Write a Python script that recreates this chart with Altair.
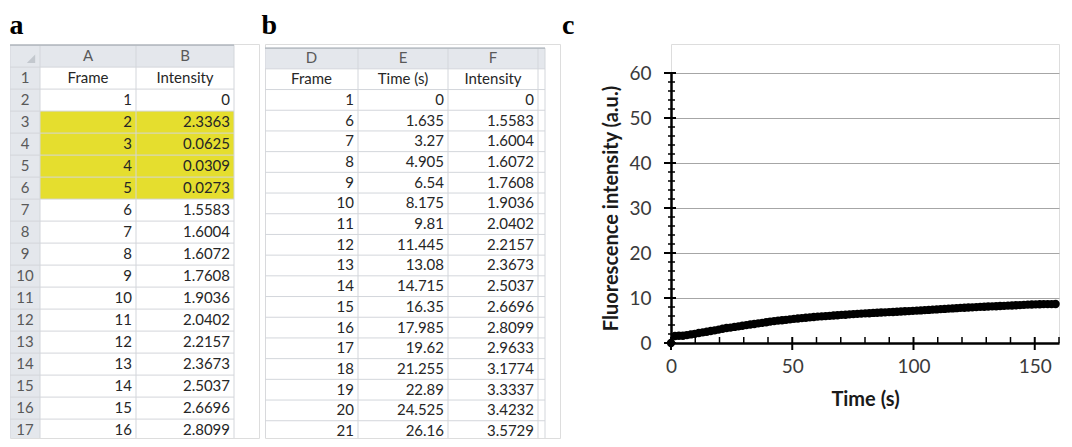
import altair as alt
import pandas as pd

# ---------------- data ----------------
a_col_letters = ["A", "B"]
a_headers = ["Frame", "Intensity"]
a_frame = [1, 2, 3, 4, 5, 6, 7, 8, 9, 10, 11, 12, 13, 14, 15, 16, 17]
a_intensity = [0, 2.3363, 0.0625, 0.0309, 0.0273, 1.5583, 1.6004, 1.6072,
               1.7608, 1.9036, 2.0402, 2.2157, 2.3673, 2.5037, 2.6696, 2.8099, 2.9633]
a_highlight = [2, 3, 4, 5]

b_col_letters = ["D", "E", "F"]
b_headers = ["Frame", "Time (s)", "Intensity"]
b_frame = [1, 6, 7, 8, 9, 10, 11, 12, 13, 14, 15, 16, 17, 18, 19, 20, 21, 22]
b_time = [0, 1.635, 3.27, 4.905, 6.54, 8.175, 9.81, 11.445, 13.08, 14.715,
          16.35, 17.985, 19.62, 21.255, 22.89, 24.525, 26.16, 27.795]
b_intensity = [0, 1.5583, 1.6004, 1.6072, 1.7608, 1.9036, 2.0402, 2.2157, 2.3673,
               2.5037, 2.6696, 2.8099, 2.9633, 3.1774, 3.3337, 3.4232, 3.5729, 3.7042]

frame_interval = 1.635
c_intensity = [0, 1.5583, 1.6004, 1.6072, 1.7608, 1.9036, 2.0402, 2.2157, 2.3673,
               2.5037, 2.6696, 2.8099, 2.9633, 3.1774, 3.3337, 3.4232, 3.5729,
               3.70, 3.83, 3.97, 4.10, 4.21, 4.36, 4.48, 4.62, 4.76, 4.86,
               4.97, 5.05, 5.15, 5.26, 5.36, 5.44, 5.53, 5.60, 5.69, 5.78,
               5.86, 5.91, 5.98, 6.04, 6.12, 6.17, 6.25, 6.29, 6.36, 6.41,
               6.47, 6.52, 6.58, 6.62, 6.68, 6.71, 6.77, 6.81, 6.86, 6.90,
               6.95, 6.99, 7.05, 7.09, 7.15, 7.19, 7.24, 7.30, 7.35, 7.41,
               7.46, 7.52, 7.57, 7.63, 7.68, 7.74, 7.80, 7.84, 7.89, 7.93,
               7.97, 8.02, 8.05, 8.10, 8.13, 8.16, 8.21, 8.25, 8.30, 8.34,
               8.39, 8.43, 8.48, 8.52, 8.56, 8.59, 8.61, 8.63, 8.64, 8.65, 8.66]
c_time = [round(i * frame_interval, 3) for i in range(len(c_intensity))]

y_major = [0, 10, 20, 30, 40, 50, 60]
y_minor = [v for v in range(0, 61, 2) if v % 10 != 0]
x_major = [0, 50, 100, 150]
x_minor = [v for v in range(10, 161, 10) if v % 50 != 0]

# ---------------- styles ----------------
FONT = "Lato"
HEAD_BG = "#e4e7ec"
GRID = "#d3d6db"
YELLOW = "#e5de2e"
TXT = "#262626"
TXT_HEAD = "#595959"
PANEL_H = 394


def fmt(v):
    return f"{v:g}"


def title(letter, dx=0):
    return alt.TitleParams(letter, anchor="start", font="Liberation Serif", fontSize=28,
                           fontWeight="bold", color="black", offset=4, dx=dx)


def build_table(W, H, unit, top, edges, rows, highlight_rows, first_col_is_rownum, letter, dx):
    ymax = H / unit
    table_w = edges[-1]
    xs = alt.Scale(domain=[0, W], nice=False, zero=False)
    ys = alt.Scale(domain=[0, ymax], reverse=True, nice=False, zero=False)

    rects = [dict(x0=0, x1=table_w, y0=top, y1=top + 1, fill=HEAD_BG)]
    if first_col_is_rownum:
        rects.append(dict(x0=0, x1=edges[1], y0=top, y1=ymax, fill=HEAD_BG))
    for r in highlight_rows:
        rects.append(dict(x0=edges[1], x1=table_w, y0=top + r, y1=top + r + 1, fill=YELLOW))
    rect_df = pd.DataFrame(rects)

    h = [dict(x0=0, x1=table_w, y=top + i, c=GRID) for i in range(0, int(ymax - top) + 1)]
    v = [dict(x=e, y0=top, y1=ymax, c=GRID) for e in edges]
    h_df, v_df = pd.DataFrame(h), pd.DataFrame(v)

    cells = []
    for ri, row in enumerate(rows):
        yc = top + ri + 0.5
        if yc + 0.3 > ymax:
            continue
        for ci, (txt, align, col) in enumerate(row):
            if txt == "":
                continue
            if align == "center":
                x = (edges[ci] + edges[ci + 1]) / 2
            else:
                x = edges[ci + 1] - 4
            cells.append(dict(x=x, y=yc, t=txt, a=align, c=col))
    cell_df = pd.DataFrame(cells)

    def bx(f):
        return alt.X(f, scale=xs, axis=None)

    def by(f):
        return alt.Y(f, scale=ys, axis=None)

    bg = alt.Chart(rect_df).mark_rect(clip=True).encode(
        x=bx("x0:Q"), x2="x1:Q", y=by("y0:Q"), y2="y1:Q",
        color=alt.Color("fill:N", scale=None))
    hl = alt.Chart(h_df).mark_rule(clip=True, strokeWidth=1).encode(
        x=bx("x0:Q"), x2="x1:Q", y=by("y:Q"), color=alt.Color("c:N", scale=None))
    vl = alt.Chart(v_df).mark_rule(clip=True, strokeWidth=1).encode(
        x=bx("x:Q"), y=by("y0:Q"), y2="y1:Q", color=alt.Color("c:N", scale=None))
    topline = alt.Chart(pd.DataFrame([dict(x0=0, x1=table_w, y=top)])).mark_rule(
        color="#aeb4bb", strokeWidth=1.2).encode(x=bx("x0:Q"), x2="x1:Q", y=by("y:Q"))
    layers = [bg, hl, vl, topline]
    for al in ["center", "right"]:
        sub = cell_df[cell_df.a == al]
        layers.append(alt.Chart(sub).mark_text(align=al, baseline="middle", font=FONT,
                                                fontSize=15, clip=True).encode(
            x=bx("x:Q"), y=by("y:Q"), text="t:N",
            color=alt.Color("c:N", scale=None)))
    if first_col_is_rownum:
        tri = pd.DataFrame([dict(x=edges[1] - 9, y=top + 0.62)])
        layers.append(alt.Chart(tri).mark_point(shape="M1,-1L1,1L-1,1Z", filled=True,
                                                 color="#c3c8ce", size=70, opacity=1).encode(
            x=bx("x:Q"), y=by("y:Q")))
    return alt.layer(*layers).properties(width=W, height=H, title=title(letter, dx))


# ---- table a ----
a_edges = [0, 30, 126, 224]
a_rows = [[("", "center", TXT_HEAD)] + [(c, "center", TXT_HEAD) for c in a_col_letters]]
a_rows.append([("1", "center", TXT_HEAD)] + [(hh, "center", TXT) for hh in a_headers])
for k, (f, val) in enumerate(zip(a_frame, a_intensity)):
    a_rows.append([(str(k + 2), "center", TXT_HEAD), (str(f), "right", TXT),
                   (fmt(val), "right", TXT)])
a_hl_rows = [f + 1 for f in a_highlight]
table_a = build_table(249, PANEL_H, 22.0, 0.05, a_edges, a_rows, a_hl_rows, True, "a", 0)

# ---- table b ----
b_edges = [0, 93, 183, 273, 280]
b_rows = [[(c, "center", TXT_HEAD) for c in b_col_letters] + [("", "center", TXT)]]
b_rows.append([(hh, "center", TXT) for hh in b_headers] + [("", "center", TXT)])
for f, t, val in zip(b_frame, b_time, b_intensity):
    b_rows.append([(str(f), "right", TXT), (fmt(t), "right", TXT), (fmt(val), "right", TXT),
                   ("", "center", TXT)])
table_b = build_table(295, PANEL_H, 20.7, 0.2, b_edges, b_rows, [], False, "b", -3)

# ---- chart c ----
C_W, C_H = 388, 299
xs = alt.Scale(domain=[0, 160], nice=False, zero=False)
ys = alt.Scale(domain=[0, 60], range=[C_H, C_H - 270], nice=False, zero=False)
x_axis = alt.Axis(values=x_major, ticks=False, grid=False, domainColor="black", domainWidth=2.5,
                  labelFont=FONT, labelFontSize=19, labelColor="#3a3a3a", labelPadding=14,
                  labelFlush=False, title="Time (s)", titleFont=FONT, titleFontSize=20,
                  titleFontWeight="bold", titleColor="#1a1a1a", titlePadding=13)
y_axis = alt.Axis(values=y_major, ticks=False, grid=True, gridColor="#a6a6a6", gridWidth=1.2,
                  domainColor="black", domainWidth=2.5, labelFont=FONT, labelFontSize=19,
                  labelColor="#3a3a3a", labelPadding=20, minExtent=41, maxExtent=41,
                  title="Fluorescence intensity (a.u.)", titleFont=FONT, titleFontSize=20,
                  titleFontWeight="bold", titleColor="#1a1a1a", titlePadding=9)

c_df = pd.DataFrame({"time": c_time, "value": c_intensity})
points = alt.Chart(c_df).mark_circle(size=70, color="black", opacity=1).encode(
    x=alt.X("time:Q", scale=xs, axis=x_axis), y=alt.Y("value:Q", scale=ys, axis=y_axis))
ytick_major = alt.Chart(pd.DataFrame({"value": y_major})).mark_rule(color="black", strokeWidth=2).encode(
    y=alt.Y("value:Q", scale=ys, axis=y_axis), x=alt.value(-7), x2=alt.value(5))
ytick_minor = alt.Chart(pd.DataFrame({"value": y_minor})).mark_rule(color="black", strokeWidth=1.5).encode(
    y=alt.Y("value:Q", scale=ys, axis=y_axis), x=alt.value(-3), x2=alt.value(4))
xtick_major = alt.Chart(pd.DataFrame({"time": x_major})).mark_rule(color="black", strokeWidth=2).encode(
    x=alt.X("time:Q", scale=xs, axis=x_axis), y=alt.value(C_H - 6), y2=alt.value(C_H + 7))
xtick_minor = alt.Chart(pd.DataFrame({"time": x_minor})).mark_rule(color="black", strokeWidth=1.5).encode(
    x=alt.X("time:Q", scale=xs, axis=x_axis), y=alt.value(C_H - 6), y2=alt.value(C_H))
chart_c = alt.layer(ytick_major, ytick_minor, xtick_major, xtick_minor, points).properties(
    width=C_W, height=C_H, title=title("c", -39))

chart = alt.hconcat(table_a, table_b, chart_c, spacing=0).properties(
    padding={"top": 3, "left": 0, "right": 0, "bottom": 0}).configure_view(
    stroke=None).configure(background="white")
chart.save("out.html", embed_options={"renderer": "svg", "actions": False})
